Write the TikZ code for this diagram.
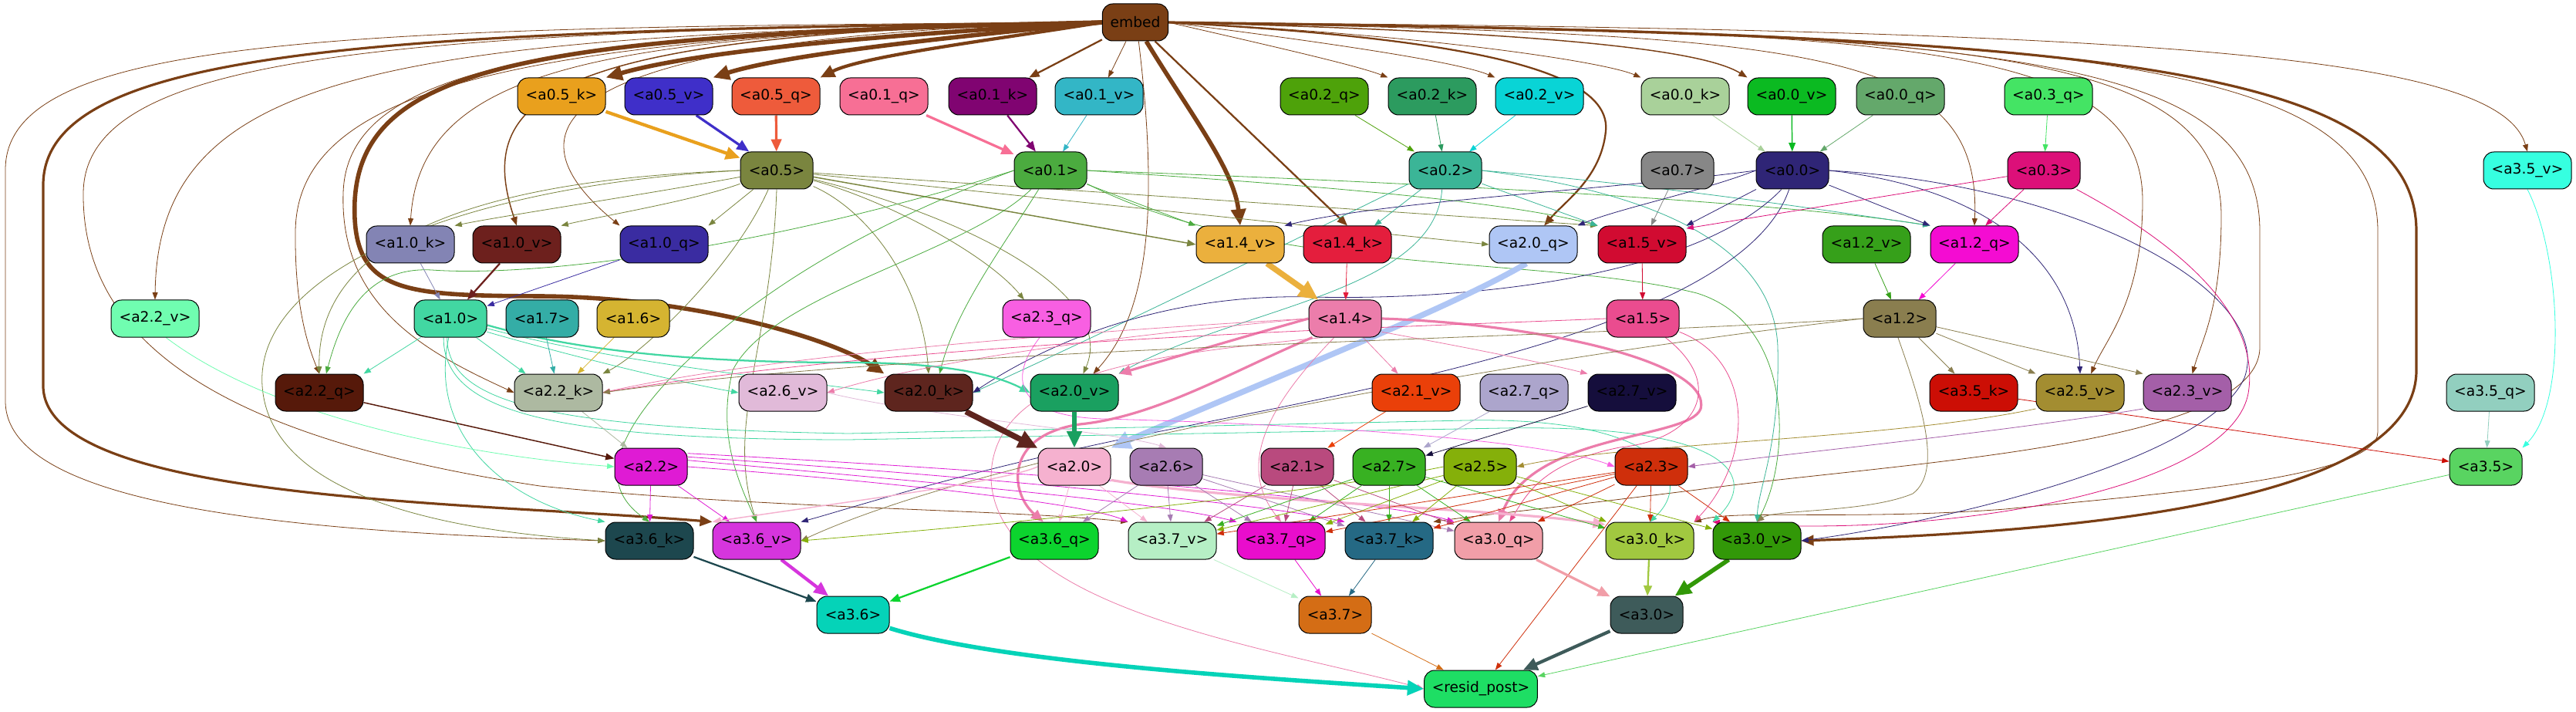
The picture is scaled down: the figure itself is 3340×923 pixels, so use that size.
\documentclass[tikz,border=0pt]{standalone}
\usepackage{fontspec}
\setmainfont{DejaVu Sans}
\usetikzlibrary{arrows.meta}
\pgfdeclarelayer{bg}\pgfdeclarelayer{edges}
\pgfsetlayers{bg,edges,main}
\definecolor{cemb}{HTML}{7A3F15}
\definecolor{c05k}{HTML}{E9A01D}\definecolor{c05v}{HTML}{3F2FC9}\definecolor{c05q}{HTML}{EE5B3B}
\definecolor{c01q}{HTML}{F76F95}\definecolor{c01k}{HTML}{800471}\definecolor{c01v}{HTML}{33B6C6}
\definecolor{c02q}{HTML}{4EA20A}\definecolor{c02k}{HTML}{2C9B5F}\definecolor{c02v}{HTML}{09D4D6}
\definecolor{c00k}{HTML}{A9D19A}\definecolor{c00v}{HTML}{0BBA21}\definecolor{c00q}{HTML}{64A86B}
\definecolor{c03q}{HTML}{44E464}
\definecolor{c05}{HTML}{7A853F}\definecolor{c01}{HTML}{4BAB3F}\definecolor{c02}{HTML}{3BB597}
\definecolor{c07}{HTML}{878787}\definecolor{c00}{HTML}{2F2576}\definecolor{c03}{HTML}{DC1079}
\definecolor{c35v}{HTML}{36FFE0}
\definecolor{c10k}{HTML}{8384B4}\definecolor{c10v}{HTML}{6D201D}\definecolor{c10q}{HTML}{3A2CA1}
\definecolor{c14v}{HTML}{EBB03D}\definecolor{c14k}{HTML}{E41E3D}\definecolor{c20q}{HTML}{AFC6F5}
\definecolor{c15v}{HTML}{D10B31}\definecolor{c12v}{HTML}{36A01A}\definecolor{c12q}{HTML}{F40CD2}
\definecolor{c22v}{HTML}{70FDB0}\definecolor{c10}{HTML}{42D7A2}\definecolor{c17}{HTML}{34ADA6}
\definecolor{c16}{HTML}{D5B431}\definecolor{c23q}{HTML}{F85FE2}\definecolor{c14}{HTML}{EC7DAB}
\definecolor{c15}{HTML}{EA4C8F}\definecolor{c12}{HTML}{8A7E4F}
\definecolor{c22q}{HTML}{56190A}\definecolor{c22k}{HTML}{ADB9A1}\definecolor{c26v}{HTML}{E1BAD9}
\definecolor{c20k}{HTML}{5E251E}\definecolor{c20v}{HTML}{1AA060}\definecolor{c21v}{HTML}{EA4009}
\definecolor{c27q}{HTML}{ACA5CC}\definecolor{c27v}{HTML}{150E3C}\definecolor{c35k}{HTML}{CC0E05}
\definecolor{c25v}{HTML}{A38D31}\definecolor{c23v}{HTML}{A45FA8}\definecolor{c35q}{HTML}{92CFBF}
\definecolor{c22}{HTML}{DF1BD4}\definecolor{c20}{HTML}{F5B1CF}\definecolor{c26}{HTML}{A77CB3}
\definecolor{c21}{HTML}{B94A7E}\definecolor{c27}{HTML}{38B122}\definecolor{c25}{HTML}{85B00A}
\definecolor{c23}{HTML}{CF2F0B}\definecolor{c35}{HTML}{59D461}
\definecolor{c36k}{HTML}{1D474E}\definecolor{c36v}{HTML}{D635DD}\definecolor{c36q}{HTML}{0CD42E}
\definecolor{c37v}{HTML}{B6EFC5}\definecolor{c37q}{HTML}{E90DCC}\definecolor{c37k}{HTML}{256984}
\definecolor{c30q}{HTML}{F19EA8}\definecolor{c30k}{HTML}{A1C840}\definecolor{c30v}{HTML}{329808}
\definecolor{c36}{HTML}{05D3B8}\definecolor{c37}{HTML}{D46D15}\definecolor{c30}{HTML}{3E5B5A}
\definecolor{crp}{HTML}{1EDE64}
\tikzset{
 nd/.style={draw=black,line width=0.75pt,rounded corners=10pt,minimum height=36pt,inner sep=0pt,font=\fontsize{14pt}{16pt}\selectfont},
 nk/.style={nd,minimum width=85.5pt},
 ns/.style={nd,minimum width=70.5pt},
 e1/.style={line width=0.6pt,-{Triangle[length=7pt,width=5.2pt]}},
 e2/.style={line width=1.1pt,-{Triangle[length=8.5pt,width=6.5pt]}},
 e3/.style={line width=1.7pt,-{Triangle[length=10pt,width=8pt]}},
 e4/.style={line width=2.4pt,-{Triangle[length=12pt,width=10pt]}},
 e5/.style={line width=3.2pt,-{Triangle[length=14pt,width=12pt]}},
 e6/.style={line width=4.2pt,-{Triangle[length=16pt,width=14pt]}},
 e8/.style={line width=5.6pt,-{Triangle[length=19pt,width=17pt]}},
}
\begin{document}
\begin{tikzpicture}[x=0.75pt,y=-0.75pt]
\begin{pgfonlayer}{bg}
\fill[white] (0,0) rectangle (3340,923);
\end{pgfonlayer}
\useasboundingbox (0,0) rectangle (3340,923);
% row 0
\node[nd,fill=cemb,minimum width=64pt] (emb) at (1472,29) {embed};
% row 1
\node[nk,fill=c05k] (a05k) at (728,125) {<a0.5\_k>};
\node[nk,fill=c05v] (a05v) at (867,125) {<a0.5\_v>};
\node[nk,fill=c05q] (a05q) at (1006,125) {<a0.5\_q>};
\node[nk,fill=c01q] (a01q) at (1146,125) {<a0.1\_q>};
\node[nk,fill=c01k] (a01k) at (1287,125) {<a0.1\_k>};
\node[nk,fill=c01v] (a01v) at (1425,125) {<a0.1\_v>};
\node[nk,fill=c02q] (a02q) at (1717,125) {<a0.2\_q>};
\node[nk,fill=c02k] (a02k) at (1857,125) {<a0.2\_k>};
\node[nk,fill=c02v] (a02v) at (1996,125) {<a0.2\_v>};
\node[nk,fill=c00k] (a00k) at (2185,125) {<a0.0\_k>};
\node[nk,fill=c00v] (a00v) at (2323,125) {<a0.0\_v>};
\node[nk,fill=c00q] (a00q) at (2464,125) {<a0.0\_q>};
\node[nk,fill=c03q] (a03q) at (2656,125) {<a0.3\_q>};
% row 2
\node[ns,fill=c05] (a05) at (1007,221) {<a0.5>};
\node[ns,fill=c01] (a01) at (1362,221) {<a0.1>};
\node[ns,fill=c02] (a02) at (1874,221) {<a0.2>};
\node[ns,fill=c07] (a07) at (2175,221) {<a0.7>};
\node[ns,fill=c00] (a00) at (2324,221) {<a0.0>};
\node[ns,fill=c03] (a03) at (2650,221) {<a0.3>};
\node[nk,fill=c35v] (a35v) at (3277,221) {<a3.5\_v>};
% row 3
\node[nk,fill=c10k] (a10k) at (532,317) {<a1.0\_k>};
\node[nk,fill=c10v] (a10v) at (670,317) {<a1.0\_v>};
\node[nk,fill=c10q] (a10q) at (861,317) {<a1.0\_q>};
\node[nk,fill=c14v] (a14v) at (1608,317) {<a1.4\_v>};
\node[nk,fill=c14k] (a14k) at (1747,317) {<a1.4\_k>};
\node[nk,fill=c20q] (a20q) at (1988,317) {<a2.0\_q>};
\node[nk,fill=c15v] (a15v) at (2129,317) {<a1.5\_v>};
\node[nk,fill=c12v] (a12v) at (2420,317) {<a1.2\_v>};
\node[nk,fill=c12q] (a12q) at (2560,317) {<a1.2\_q>};
% row 4
\node[nk,fill=c22v] (a22v) at (201,413) {<a2.2\_v>};
\node[ns,fill=c10] (a10) at (584,413) {<a1.0>};
\node[ns,fill=c17] (a17) at (703,413) {<a1.7>};
\node[ns,fill=c16] (a16) at (821,413) {<a1.6>};
\node[nk,fill=c23q] (a23q) at (1357,413) {<a2.3\_q>};
\node[ns,fill=c14] (a14) at (1744,413) {<a1.4>};
\node[ns,fill=c15] (a15) at (2130,413) {<a1.5>};
\node[ns,fill=c12] (a12) at (2463,413) {<a1.2>};
% row 5
\node[nk,fill=c22q] (a22q) at (414,509) {<a2.2\_q>};
\node[nk,fill=c22k] (a22k) at (724,509) {<a2.2\_k>};
\node[nk,fill=c26v] (a26v) at (1015,509) {<a2.6\_v>};
\node[nk,fill=c20k] (a20k) at (1204,509) {<a2.0\_k>};
\node[nk,fill=c20v] (a20v) at (1393,509) {<a2.0\_v>};
\node[nk,fill=c21v] (a21v) at (1836,509) {<a2.1\_v>};
\node[nk,fill=c27q] (a27q) at (1976,509) {<a2.7\_q>};
\node[nk,fill=c27v] (a27v) at (2116,509) {<a2.7\_v>};
\node[nk,fill=c35k] (a35k) at (2559,509) {<a3.5\_k>};
\node[nk,fill=c25v] (a25v) at (2697,509) {<a2.5\_v>};
\node[nk,fill=c23v] (a23v) at (2836,509) {<a2.3\_v>};
\node[nk,fill=c35q] (a35q) at (3229,509) {<a3.5\_q>};
% row 6
\node[ns,fill=c22] (a22) at (844,605) {<a2.2>};
\node[ns,fill=c20] (a20) at (1393,605) {<a2.0>};
\node[ns,fill=c26] (a26) at (1512,605) {<a2.6>};
\node[ns,fill=c21] (a21) at (1682,605) {<a2.1>};
\node[ns,fill=c27] (a27) at (1801,605) {<a2.7>};
\node[ns,fill=c25] (a25) at (1919,605) {<a2.5>};
\node[ns,fill=c23] (a23) at (2141,605) {<a2.3>};
\node[ns,fill=c35] (a35) at (3223,605) {<a3.5>};
% row 7
\node[nk,fill=c36k] (a36k) at (842,701) {<a3.6\_k>};
\node[nk,fill=c36v] (a36v) at (981,701) {<a3.6\_v>};
\node[nk,fill=c36q] (a36q) at (1367,701) {<a3.6\_q>};
\node[nk,fill=c37v] (a37v) at (1520,701) {<a3.7\_v>};
\node[nk,fill=c37q] (a37q) at (1661,701) {<a3.7\_q>};
\node[nk,fill=c37k] (a37k) at (1801,701) {<a3.7\_k>};
\node[nk,fill=c30q] (a30q) at (1943,701) {<a3.0\_q>};
\node[nk,fill=c30k] (a30k) at (2139,701) {<a3.0\_k>};
\node[nk,fill=c30v] (a30v) at (2278,701) {<a3.0\_v>};
% row 8
\node[ns,fill=c36] (a36) at (1106,797) {<a3.6>};
\node[ns,fill=c37] (a37) at (1731,797) {<a3.7>};
\node[ns,fill=c30] (a30) at (2135,797) {<a3.0>};
% row 9
\node[nd,fill=crp,minimum width=110pt] (rp) at (1920,893) {<resid\_post>};

\begin{pgfonlayer}{edges}
% embed
\draw[e6,cemb] (emb.west) .. controls (1200,42) and (920,62) .. (a05k.north east);
\draw[e6,cemb] (emb.west) .. controls (1250,46) and (1020,70) .. (a05v.north east);
\draw[e5,cemb] (emb.west) .. controls (1300,50) and (1120,72) .. (a05q.north east);
\draw[e3,cemb] (emb) -- (a01k);
\draw[e1,cemb] (emb) -- (a01v);
\draw[e6,cemb] (emb.-60) .. controls (1545,150) and (1600,220) .. (a14v.north);
\draw[e3,cemb] (emb) -- (a14k.north);
\draw[e3,cemb] (emb.east) .. controls (1900,50) and (2090,90) .. (2082,170) .. controls (2076,230) and (2030,260) .. (a20q.60);
\draw[e1,cemb] (emb.east) .. controls (1650,60) and (1760,85) .. (a02k.north west);
\draw[e1,cemb] (emb.east) .. controls (1720,55) and (1890,80) .. (a02v.north west);
\draw[e1,cemb] (emb.east) .. controls (1850,45) and (2080,80) .. (a00k.north west);
\draw[e2,cemb] (emb.east) .. controls (1950,40) and (2200,60) .. (a00v.north west);
\draw[e1,cemb] (emb.east) .. controls (2350,45) and (2570,60) .. (a12q.north);
\draw[e1,cemb] (emb.east) .. controls (2450,40) and (2778,50) .. (2778,260) .. controls (2778,390) and (2730,440) .. (a25v.60);
\draw[e1,cemb] (emb.east) .. controls (2550,40) and (2880,60) .. (2880,280) .. controls (2880,400) and (2855,440) .. (a23v.75);
\draw[e1,cemb] (emb.east) .. controls (2600,40) and (2930,70) .. (2930,300) -- (2930,450) .. controls (2930,580) and (2450,600) .. (2200,635) .. controls (2000,660) and (1900,670) .. (a37k.north east);
\draw[e1,cemb] (emb.east) .. controls (2700,40) and (3083,80) .. (3083,300) -- (3083,560) .. controls (3083,620) and (2800,640) .. (2600,660) .. controls (2400,675) and (2250,660) .. (a30k.north east);
\draw[e1,cemb] (emb.east) .. controls (2800,38) and (3240,70) .. (a35v.north);
\draw[e4,cemb] (emb.east) .. controls (2700,44) and (3133,80) .. (3133,300) -- (3133,480) .. controls (3133,660) and (2650,690) .. (a30v.east);
\draw[e1,cemb] (emb.west) .. controls (800,45) and (545,80) .. (a10k.north);
\draw[e2,cemb] (emb.west) .. controls (720,42) and (612,120) .. (a10v.north);
\draw[e1,cemb] (emb.west) .. controls (760,45) and (630,150) .. (a10q.north west);
\draw[e1,cemb] (emb.west) .. controls (500,45) and (205,90) .. (a22v.north);
\draw[e6,cemb] (emb.west) .. controls (700,45) and (470,80) .. (460,260) .. controls (455,380) and (520,383) .. (700,384) .. controls (900,385) and (1080,440) .. (a20k.north west);
\draw[e4,cemb] (emb.west) .. controls (500,40) and (56,60) .. (56,240) -- (56,500) .. controls (56,650) and (600,650) .. (a36v.north west);
\draw[e1,cemb] (emb.west) .. controls (450,35) and (7,45) .. (7,220) -- (7,520) .. controls (7,660) and (400,690) .. (a36k.west);
\draw[e1,cemb] (emb.west) .. controls (700,40) and (450,90) .. (445,250) .. controls (440,400) and (560,460) .. (a22k.west);
\draw[e1,cemb] (emb.west) .. controls (650,45) and (385,120) .. (383,300) .. controls (382,400) and (400,450) .. (a22q.north);
\draw[e1,cemb] (emb.-80) .. controls (1500,250) and (1495,400) .. (a20v.45);
\draw[e1,cemb] (emb.west) .. controls (500,40) and (110,70) .. (108,250) .. controls (106,450) and (300,570) .. (700,630) .. controls (1000,660) and (1300,660) .. (a37v.north west);
% row1 -> row2
\draw[e5,c05k] (a05k) -- (a05);
\draw[e4,c05v] (a05v) -- (a05);
\draw[e4,c05q] (a05q) -- (a05);
\draw[e4,c01q] (a01q) -- (a01);
\draw[e3,c01k] (a01k) -- (a01);
\draw[e1,c01v] (a01v) -- (a01);
\draw[e1,c02q] (a02q) -- (a02);
\draw[e1,c02k] (a02k) -- (a02);
\draw[e1,c02v] (a02v) -- (a02);
\draw[e1,c00k] (a00k) -- (a00);
\draw[e2,c00v] (a00v) -- (a00);
\draw[e1,c00q] (a00q) -- (a00);
\draw[e1,c03q] (a03q) -- (a03);
\draw[e1,c07] (a07) -- (a15v);
\draw[e1,c35v] (a35v.south) .. controls (3320,330) and (3330,520) .. (a35.north east);
\draw[e1,c35q] (a35q) -- (a35);
% a0.5
\draw[e1,c05] (a05.190) .. controls (850,250) and (650,280) .. (a10k.north east);
\draw[e1,c05] (a05.200) .. controls (900,260) and (780,280) .. (a10v.north east);
\draw[e1,c05] (a05) -- (a10q.north east);
\draw[e2,c05] (a05) -- (a14v.west);
\draw[e1,c05] (a05) -- (a20q.west);
\draw[e1,c05] (a05) -- (a15v.north west);
\draw[e1,c05] (a05) .. controls (1150,260) and (1280,330) .. (a23q.140);
\draw[e1,c05] (a05) .. controls (1120,270) and (1195,360) .. (a20k.north);
\draw[e1,c05] (a05) .. controls (1250,280) and (1450,380) .. (a20v.65);
\draw[e1,c05] (a05) .. controls (950,350) and (830,460) .. (a22k.north east);
\draw[e1,c05] (a05.west) .. controls (700,230) and (410,280) .. (a22q.north);
\draw[e1,c05] (a05.west) .. controls (600,240) and (330,350) .. (340,500) .. controls (350,650) and (600,690) .. (a36k.west);
\draw[e1,c05] (a05.south) .. controls (1000,450) and (940,550) .. (a36v.north);
% a0.1
\draw[e1,c01] (a01) -- (a14v.north west);
\draw[e1,c01] (a01.east) .. controls (1700,240) and (1950,260) .. (a15v.north west);
\draw[e1,c01] (a01.east) .. controls (1800,235) and (2300,260) .. (a12q.north west);
\draw[e1,c01] (a01.-20) .. controls (1650,360) and (2000,330) .. (2200,380) .. controls (2330,420) and (2320,600) .. (a30v.north);
\draw[e1,c01] (a01) .. controls (1300,320) and (1240,400) .. (a20k.60);
\draw[e1,c01] (a01.west) .. controls (1000,320) and (700,360) .. (560,350) .. controls (470,345) and (440,420) .. (a22q.70);
\draw[e1,c01] (a01.west) .. controls (1100,300) and (950,400) .. (860,500) .. controls (780,590) and (790,640) .. (a36k.north);
\draw[e1,c01] (a01) .. controls (1250,330) and (1000,380) .. (950,480) .. controls (930,560) and (955,620) .. (a36v.north);
% a0.2
\draw[e1,c02] (a02) -- (a14k.35);
\draw[e1,c02] (a02) -- (a15v.north west);
\draw[e1,c02] (a02.east) .. controls (2150,240) and (2350,270) .. (a12q.north west);
\draw[e1,c02] (a02.east) .. controls (2150,250) and (2300,320) .. (2305,450) .. controls (2308,580) and (2280,630) .. (a30v.north);
\draw[e1,c02] (a02.200) .. controls (1700,300) and (1500,400) .. (a20k.east);
\draw[e1,c02] (a02.-100) .. controls (1860,380) and (1600,400) .. (a20v.north east);
% a0.0
\draw[e1,c00] (a00.west) .. controls (2100,245) and (1800,260) .. (a14v.north east);
\draw[e1,c00] (a00.west) .. controls (2200,250) and (2100,270) .. (a20q.north east);
\draw[e1,c00] (a00) -- (a15v.north east);
\draw[e1,c00] (a00) -- (a12q.north west);
\draw[e1,c00] (a00.east) .. controls (2550,240) and (2690,320) .. (a25v.north);
\draw[e1,c00] (a00.east) .. controls (2700,240) and (2950,380) .. (2910,490) .. controls (2860,600) and (2500,680) .. (a30v.east);
\draw[e1,c00] (a00.-120) .. controls (2200,360) and (1900,390) .. (1700,385) .. controls (1500,380) and (1350,450) .. (a20k.east);
\draw[e1,c00] (a00.-100) .. controls (2260,420) and (1800,500) .. (1500,560) .. controls (1250,610) and (1100,660) .. (a36v.north east);
% a0.3
\draw[e1,c03] (a03) -- (a15v.20);
\draw[e1,c03] (a03) -- (a12q.60);
\draw[e1,c03] (a03.-30) .. controls (2850,330) and (2930,420) .. (2915,510) .. controls (2890,640) and (2500,700) .. (a30v.north west);
% row3 -> row4
\draw[e1,c10k] (a10k) -- (a10);
\draw[e3,c10v] (a10v) -- (a10);
\draw[e1,c10q] (a10q) -- (a10);
\draw[e8,c14v] (a14v) -- (a14);
\draw[e1,c14k] (a14k) -- (a14);
\draw[e8,c20q] (a20q.-110) .. controls (1880,400) and (1650,490) .. (a20.north east);
\draw[e1,c15v] (a15v) -- (a15);
\draw[e1,c12v] (a12v) -- (a12);
\draw[e1,c12q] (a12q) -- (a12);
% a1.0
\draw[e1,c10] (a10) -- (a22q.north east);
\draw[e1,c10] (a10) -- (a22k.150);
\draw[e1,c10] (a10.-20) .. controls (700,450) and (850,490) .. (a26v.west);
\draw[e3,c10] (a10.-10) .. controls (750,455) and (900,470) .. (1100,470) .. controls (1200,470) and (1280,480) .. (a20v.west);
\draw[e1,c10] (a10.-15) .. controls (800,470) and (1000,490) .. (a20k.west);
\draw[e1,c10] (a10.-95) .. controls (555,560) and (650,650) .. (a36k.north west);
\draw[e1,c10] (a10.-100) .. controls (580,520) and (700,555) .. (1100,562) -- (1900,545) .. controls (2150,540) and (2200,620) .. (a30k.north);
\draw[e1,c10] (a10.-110) .. controls (575,530) and (700,570) .. (1100,570) -- (1950,555) .. controls (2250,550) and (2280,620) .. (a30v.north west);
\draw[e1,c17] (a17) -- (a22k);
\draw[e1,c16] (a16) -- (a22k);
\draw[e1,c22v] (a22v.-60) .. controls (350,540) and (600,590) .. (a22.west);
\draw[e1,c23q] (a23q.-110) .. controls (1300,500) and (1330,540) .. (1430,543) .. controls (1700,550) and (2000,570) .. (a23.west);
% a1.4
\draw[e4,c14] (a14.west) .. controls (1600,440) and (1500,470) .. (a20v.north east);
\draw[e4,c14] (a14.-150) .. controls (1600,480) and (1500,540) .. (1400,550) .. controls (1300,565) and (1310,640) .. (a36q.120);
\draw[e4,c14] (a14.east) .. controls (2000,420) and (2220,470) .. (2205,530) .. controls (2190,570) and (1990,560) .. (a30q.north);
\draw[e1,c14] (a14.west) .. controls (1400,430) and (1000,460) .. (a22k.east);
\draw[e1,c14] (a14.west) .. controls (1400,440) and (1200,470) .. (a26v.east);
\draw[e1,c14] (a14) -- (a21v);
\draw[e1,c14] (a14.-20) .. controls (1900,450) and (2000,470) .. (a27v.north west);
\draw[e1,c14] (a14.-120) .. controls (1650,520) and (1600,600) .. (a37q.north);
\draw[e1,c14] (a14.-140) .. controls (1500,460) and (1285,480) .. (1285,620) .. controls (1290,790) and (1650,840) .. (rp.west);
% a1.5
\draw[e1,c15] (a15.west) .. controls (1800,425) and (1200,440) .. (a22k.east);
\draw[e1,c15] (a15.-40) .. controls (2240,500) and (2200,570) .. (2100,580) .. controls (2000,600) and (1980,640) .. (a30q.60);
\draw[e1,c15] (a15.-20) .. controls (2280,470) and (2270,600) .. (a30k.north east);
% a1.2
\draw[e1,c12] (a12) -- (a35k);
\draw[e1,c12] (a12) -- (a25v.north west);
\draw[e1,c12] (a12) -- (a23v.north west);
\draw[e1,c12] (a12.-95) .. controls (2490,520) and (2520,610) .. (2480,640) .. controls (2420,665) and (2300,660) .. (a30v.north);
\draw[e1,c12] (a12.west) .. controls (2000,440) and (1200,450) .. (a22k.east);
\draw[e1,c12] (a12.west) .. controls (2000,460) and (1300,580) .. (a36v.east);
% row5 -> row6
\draw[e2,c22q] (a22q) -- (a22);
\draw[e1,c22k] (a22k) -- (a22);
\draw[e1,c26v] (a26v.east) .. controls (1200,540) and (1450,560) .. (a26.north);
\draw[e8,c20k] (a20k) -- (a20);
\draw[e6,c20v] (a20v) -- (a20);
\draw[e1,c21v] (a21v) -- (a21);
\draw[e1,c27q] (a27q) -- (a27);
\draw[e1,c27v] (a27v) -- (a27);
\draw[e1,c35k] (a35k) -- (a35);
\draw[e1,c25v] (a25v.200) .. controls (2450,570) and (2100,575) .. (a25.east);
\draw[e1,c23v] (a23v.200) .. controls (2600,560) and (2300,590) .. (a23.east);
% row6 -> row7
\draw[e1,c22] (a22) -- (a36k);
\draw[e1,c22] (a22) -- (a36v);
\draw[e1,c22] (a22.east) .. controls (1100,620) and (1400,650) .. (a37v.north west);
\draw[e1,c22] (a22.10) .. controls (1200,625) and (1500,650) .. (a37q.north west);
\draw[e1,c22] (a22.15) .. controls (1300,620) and (1650,655) .. (a37k.north west);
\draw[e1,c22] (a22.20) .. controls (1400,615) and (1800,650) .. (a30q.north west);
\draw[e1,c20] (a20) -- (a36q);
\draw[e1,c20] (a20) -- (a37v);
\draw[e4,c20] (a20.-20) .. controls (1600,650) and (1950,660) .. (a30k.160);
\draw[e2,c20] (a20.west) .. controls (1300,625) and (1100,650) .. (a36v.north west);
\draw[e1,c26] (a26) -- (a36q);
\draw[e1,c26] (a26) -- (a37v);
\draw[e1,c26] (a26) -- (a37q);
\draw[e1,c26] (a26) -- (a37k);
\draw[e1,c26] (a26) -- (a30q);
\draw[e1,c21] (a21) -- (a37v);
\draw[e1,c21] (a21) -- (a37q);
\draw[e1,c21] (a21) -- (a37k);
\draw[e1,c21] (a21) -- (a30q);
\draw[e1,c27] (a27) -- (a37v);
\draw[e1,c27] (a27) -- (a37q);
\draw[e1,c27] (a27) -- (a37k);
\draw[e1,c27] (a27) -- (a30q);
\draw[e1,c27] (a27) -- (a30k);
\draw[e1,c25] (a25.west) .. controls (1700,640) and (1300,680) .. (a36v.east);
\draw[e1,c25] (a25) -- (a37v);
\draw[e1,c25] (a25) -- (a37q);
\draw[e1,c25] (a25) -- (a37k);
\draw[e1,c25] (a25) -- (a30k);
\draw[e1,c25] (a25) -- (a30v);
\draw[e1,c23] (a23) -- (a37v);
\draw[e1,c23] (a23) -- (a37q);
\draw[e1,c23] (a23) -- (a37k);
\draw[e1,c23] (a23) -- (a30q);
\draw[e1,c23] (a23) -- (a30k);
\draw[e1,c23] (a23) -- (a30v);
\draw[e1,c23] (a23) -- (rp);
% row7 -> row8
\draw[e3,c36k] (a36k) -- (a36);
\draw[e5,c36v] (a36v) -- (a36);
\draw[e3,c36q] (a36q) -- (a36);
\draw[e1,c37v] (a37v) -- (a37);
\draw[e1,c37q] (a37q) -- (a37);
\draw[e1,c37k] (a37k) -- (a37);
\draw[e4,c30q] (a30q) -- (a30);
\draw[e3,c30k] (a30k) -- (a30);
\draw[e6,c30v] (a30v) -- (a30);
% row8 -> row9
\draw[e6,c36] (a36.-20) .. controls (1300,860) and (1650,880) .. (rp.west);
\draw[e1,c37] (a37) -- (rp);
\draw[e5,c30] (a30) -- (rp);
\draw[e1,c35] (a35) -- (rp);
\end{pgfonlayer}
\end{tikzpicture}
\end{document}
